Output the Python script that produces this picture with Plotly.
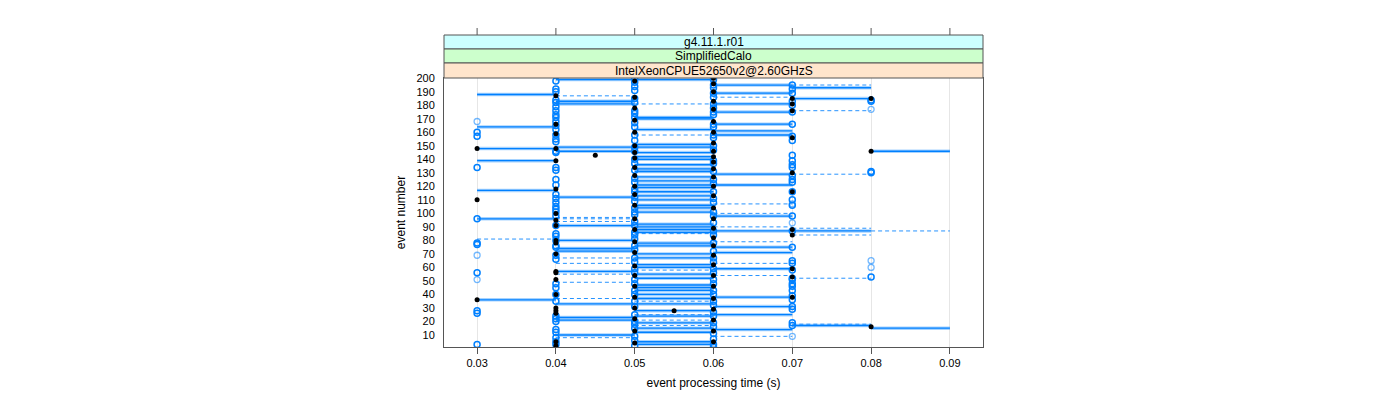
import plotly.graph_objects as go

# ---------------- data ----------------
x_ticks = [0.03, 0.04, 0.05, 0.06, 0.07, 0.08, 0.09]
x_tick_labels = ["0.03", "0.04", "0.05", "0.06", "0.07", "0.08", "0.09"]
y_ticks = [10, 20, 30, 40, 50, 60, 70, 80, 90, 100, 110, 120, 130, 140, 150, 160, 170, 180, 190, 200]

strip_labels = ["g4.11.1.r01", "SimplifiedCalo", "IntelXeonCPUE52650v2@2.60GHzS"]

# filled black points: events per time column
black_030 = [148, 110, 36]
black_040 = [187, 166, 159, 148, 139, 118, 100, 95, 91, 80, 78, 70, 57, 56, 51, 40, 30, 28, 26, 5, 2]
black_050 = [198, 186, 178, 169, 160, 150, 145, 141, 134, 128, 120, 114, 106, 96, 88, 79, 71, 61,
             54, 46, 38, 30, 22, 13, 4]
black_060 = [200, 196, 190, 183, 177, 168, 160, 152, 146, 142, 138, 133, 127, 120, 113, 104, 96, 89,
             82, 76, 69, 62, 54, 46, 37, 29, 21, 13, 5]
black_070 = [185, 181, 176, 156, 130, 116, 88, 84, 59, 53, 38]
black_080 = [185, 146, 16]
black_extra_time = [0.045, 0.055]
black_extra_event = [143, 28]

# open blue circles: events per time column
blue_030 = [160, 157, 134, 96, 78, 77, 56, 28, 26, 3]
blue_040 = [198, 192, 190, 184, 182, 179, 176, 173, 171, 168, 165, 162, 158, 155, 153, 146, 145, 134,
            132, 125, 121, 114, 111, 108, 105, 103, 101, 98, 91, 85, 83, 80, 76, 75, 69, 66, 48, 45,
            40, 35, 24, 22, 20, 14, 12, 8, 5, 3]
blue_050 = [200, 197, 194, 191, 185, 182, 176, 174, 171, 167, 164, 158, 154, 149, 146, 140, 137,
            132, 126, 123, 118, 116, 112, 109, 104, 101, 99, 94, 91, 86, 84, 81, 76, 73, 67, 64,
            59, 56, 51, 48, 43, 40, 35, 31, 25, 20, 18, 15, 9, 6, 2]
blue_060 = [199, 195, 193, 189, 186, 181, 178, 175, 173, 166, 164, 158, 156, 150, 147, 139, 137,
            131, 125, 122, 116, 111, 108, 101, 98, 93, 87, 84, 78, 72, 67, 64, 59, 56, 51, 48, 43,
            40, 35, 32, 27, 24, 19, 16, 11, 7, 3, 1]
blue_070 = [195, 192, 189, 183, 180, 175, 166, 157, 154, 143, 139, 136, 134, 128, 125, 123, 116, 110,
            106, 98, 87, 75, 65, 63, 58, 52, 51, 48, 46, 43, 39, 36, 31, 29, 19, 17]
blue_080 = [184, 183, 131, 130, 53]
light_030 = [168, 69, 51]
light_070 = [107, 93, 9]
light_080 = [177, 65, 60]

# horizontal segments: event, start time, end time
solid_event = [188, 164, 148, 139, 117, 96, 36,
               199, 183, 181, 149, 146, 112, 91, 80, 74, 72, 57, 33, 23, 21, 10,
               199, 171, 170, 162, 151, 149, 145, 142, 140, 136, 133, 131, 127, 124, 121, 119, 116,
               113, 110, 106, 104, 101, 92, 90, 88, 86, 78, 76, 70, 67, 62, 60, 55, 52, 47, 45, 43,
               40, 37, 33, 28, 24, 19, 15, 12, 5, 3,
               195, 189, 181, 175, 166, 161, 158, 129, 121, 98, 75, 71, 59, 38, 31, 25, 14,
               87,
               193, 185, 17,
               146, 15]
solid_from = [0.03] * 7 + [0.04] * 15 + [0.05] * 47 + [0.06] * 17 + [0.06] + [0.07] * 3 + [0.08] * 2
solid_to = [0.04] * 7 + [0.05] * 15 + [0.06] * 47 + [0.07] * 17 + [0.08] + [0.08] * 3 + [0.09] * 2

dash_event = [81,
              187, 97, 96, 94, 67, 63, 55, 49, 37, 8,
              181, 158, 85, 58, 35, 25, 21, 17,
              186, 107, 100, 90, 79, 63, 54, 9,
              195, 176, 129, 89, 84, 52, 18,
              87]
dash_from = [0.03] + [0.04] * 10 + [0.05] * 8 + [0.06] * 8 + [0.07] * 7 + [0.08]
dash_to = [0.04] + [0.05] * 10 + [0.06] * 8 + [0.07] * 8 + [0.08] * 7 + [0.09]

# ---------------- build ----------------
BLUE = "#0080ff"


def col_points(pairs):
    xs, ys = [], []
    for t, evs in pairs:
        xs += [t] * len(evs)
        ys += evs
    return xs, ys


def segs(ev, x0, x1):
    xs, ys = [], []
    for e, a, b in zip(ev, x0, x1):
        xs += [a, b, None]
        ys += [e, e, None]
    return xs, ys


fig = go.Figure()

sx, sy = segs(dash_event, dash_from, dash_to)
fig.add_trace(go.Scatter(x=sx, y=sy, mode="lines", line=dict(color="rgba(0,128,255,0.85)", width=1, dash="4px,3px"),
                         hoverinfo="skip", showlegend=False))
sx, sy = segs(solid_event, solid_from, solid_to)
fig.add_trace(go.Scatter(x=sx, y=sy, mode="lines", line=dict(color="rgba(0,128,255,0.35)", width=3.5),
                         hoverinfo="skip", showlegend=False))
fig.add_trace(go.Scatter(x=sx, y=sy, mode="lines", line=dict(color=BLUE, width=1.3),
                         hoverinfo="skip", showlegend=False))

lx, ly = col_points([(0.03, light_030), (0.07, light_070), (0.08, light_080)])
fig.add_trace(go.Scatter(x=lx, y=ly, mode="markers",
                         marker=dict(symbol="circle-open", size=6, color="rgba(0,128,255,0.55)", line=dict(width=1.3)),
                         showlegend=False))
bx, by = col_points([(0.03, blue_030), (0.04, blue_040), (0.05, blue_050), (0.06, blue_060),
                     (0.07, blue_070), (0.08, blue_080)])
fig.add_trace(go.Scatter(x=bx, y=by, mode="markers",
                         marker=dict(symbol="circle-open", size=6, color=BLUE, line=dict(width=1.5)),
                         showlegend=False))

kx, ky = col_points([(0.03, black_030), (0.04, black_040), (0.05, black_050), (0.06, black_060),
                     (0.07, black_070), (0.08, black_080)])
kx += black_extra_time
ky += black_extra_event
fig.add_trace(go.Scatter(x=kx, y=ky, mode="markers",
                         marker=dict(symbol="circle", size=5, color="black"),
                         showlegend=False))

# geometry (pixels, in figure coordinates; the page adds an 8px body margin)
W, H = 1400, 400
L, R, T, B = 436, 975, 27, 339
plot_h = B - T
dom_top = (B - 70) / plot_h


def py(ypx):
    return (B - ypx) / plot_h


strip_colors = ["#ccffff", "#ccffcc", "#ffe5cc"]
strip_edges = [27, 41, 55, 70]
shapes = []
annotations = []
for i, (lab, c) in enumerate(zip(strip_labels, strip_colors)):
    y0 = py(strip_edges[i + 1])
    y1 = py(strip_edges[i])
    shapes.append(dict(type="rect", xref="paper", yref="paper", x0=0, x1=1, y0=y0, y1=y1,
                       fillcolor=c, line=dict(color="#555555", width=1), layer="above"))
    annotations.append(dict(text=lab, xref="paper", yref="paper", x=0.5, y=(y0 + y1) / 2,
                            xanchor="center", yanchor="middle",
                            showarrow=False, font=dict(size=12, color="black", family="Liberation Sans, Arial")))

# top ticks above strips
for t in x_ticks:
    shapes.append(dict(type="line", xref="x", yref="paper", x0=t, x1=t, y0=1.0, y1=1.0 + 7 / plot_h,
                       line=dict(color="#555555", width=1)))

fig.update_layout(
    width=W, height=H,
    margin=dict(l=L, r=W - R, t=T, b=H - B, autoexpand=False),
    paper_bgcolor="white", plot_bgcolor="white",
    font=dict(family="Liberation Sans, Arial, sans-serif", size=11, color="black"),
    shapes=shapes, annotations=annotations,
    xaxis=dict(range=[0.0258, 0.0942], tickvals=x_ticks, ticktext=x_tick_labels, automargin=False,
               showgrid=True, gridcolor="#e6e6e6", gridwidth=1, zeroline=False,
               showline=True, linecolor="#555555", linewidth=1, mirror=True,
               ticks="outside", ticklen=6, tickcolor="#555555",
               title=dict(text="event processing time (s)", font=dict(size=12), standoff=10)),
    yaxis=dict(domain=[0, dom_top], range=[1.1, 200.2], tickvals=y_ticks, automargin=False,
               showgrid=False, zeroline=False,
               showline=True, linecolor="#555555", linewidth=1, mirror=True,
               ticks="", ticklabelstandoff=6,
               title=dict(text="event number", font=dict(size=12), standoff=8)),
)

fig.write_html("out.html")
